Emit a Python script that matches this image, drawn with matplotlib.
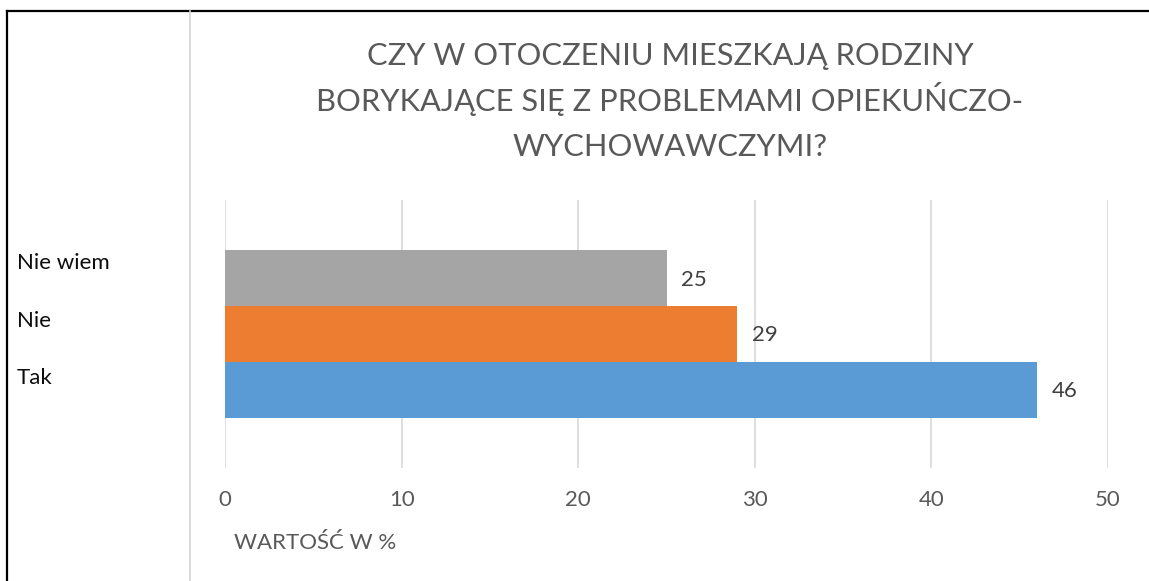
import matplotlib
matplotlib.use("Agg")
import matplotlib.pyplot as plt
from matplotlib.lines import Line2D

plt.rcParams['font.family'] = ['Lato', 'DejaVu Sans']

# ---- data ----
categories = ['Tak', 'Nie', 'Nie wiem']
values = [46, 29, 25]
colors = ['#5B9BD5', '#ED7D31', '#A5A5A5']
title_lines = ['CZY W OTOCZENIU MIESZKAJĄ RODZINY',
               'BORYKAJĄCE SIĘ Z PROBLEMAMI OPIEKUŃCZO-',
               'WYCHOWAWCZYMI?']
xlabel = 'WARTOŚĆ W %'
xticks = [0, 10, 20, 30, 40, 50]

W, H = 1149, 581
fig = plt.figure(figsize=(W / 100, H / 100), dpi=100)

# axes box in pixels (left, top, right, bottom)
l, t, r, b = 225, 200, 1108, 468
ax = fig.add_axes([l / W, 1 - b / H, (r - l) / W, (b - t) / H])

pos = list(range(len(categories)))
ax.barh(pos, values, height=1.0, color=colors, zorder=3)

ax.set_xlim(0, 50)
ax.set_ylim(-1.4, 3.4)
ax.set_xticks(xticks)
ax.set_xticklabels([str(v) for v in xticks])
ax.set_yticks([])
ax.grid(axis='x', color='#D9D9D9', lw=1.2, zorder=0)
for s in ax.spines.values():
    s.set_visible(False)
ax.tick_params(axis='x', length=0, pad=16, labelsize=16, labelcolor='#595959')

# value labels
for p, v in zip(pos, values):
    ax.annotate(str(v), (v, p), xytext=(20, -1), textcoords='offset points',
                ha='center', va='center', fontsize=16, color='#404040')

# legend entries (no markers), top to bottom
leg_y = [263, 321, 378]
for name, y in zip(categories[::-1], leg_y):
    fig.text(17 / W, 1 - y / H, name, ha='left', va='center',
             fontsize=16, color='#0D0D0D')

# title, one line at a time on fixed baselines
for i, line in enumerate(title_lines):
    fig.text(670 / W, 1 - (65 + 45.5 * i) / H, line, ha='center', va='baseline',
             fontsize=22.2, color='#595959')

fig.text(234 / W, 1 - 543 / H, xlabel, ha='left', va='center',
         fontsize=16, color='#595959')

# table borders around the chart
fig.add_artist(Line2D([7 / W, 1], [1 - 11 / H, 1 - 11 / H], color='black', lw=1.6))
fig.add_artist(Line2D([7 / W, 7 / W], [0, 1 - 11 / H], color='black', lw=1.6))
fig.add_artist(Line2D([190 / W, 190 / W], [0, 1 - 11 / H], color='#D4D4D4', lw=1.2))

fig.savefig('out.png', dpi=100, facecolor='white')
